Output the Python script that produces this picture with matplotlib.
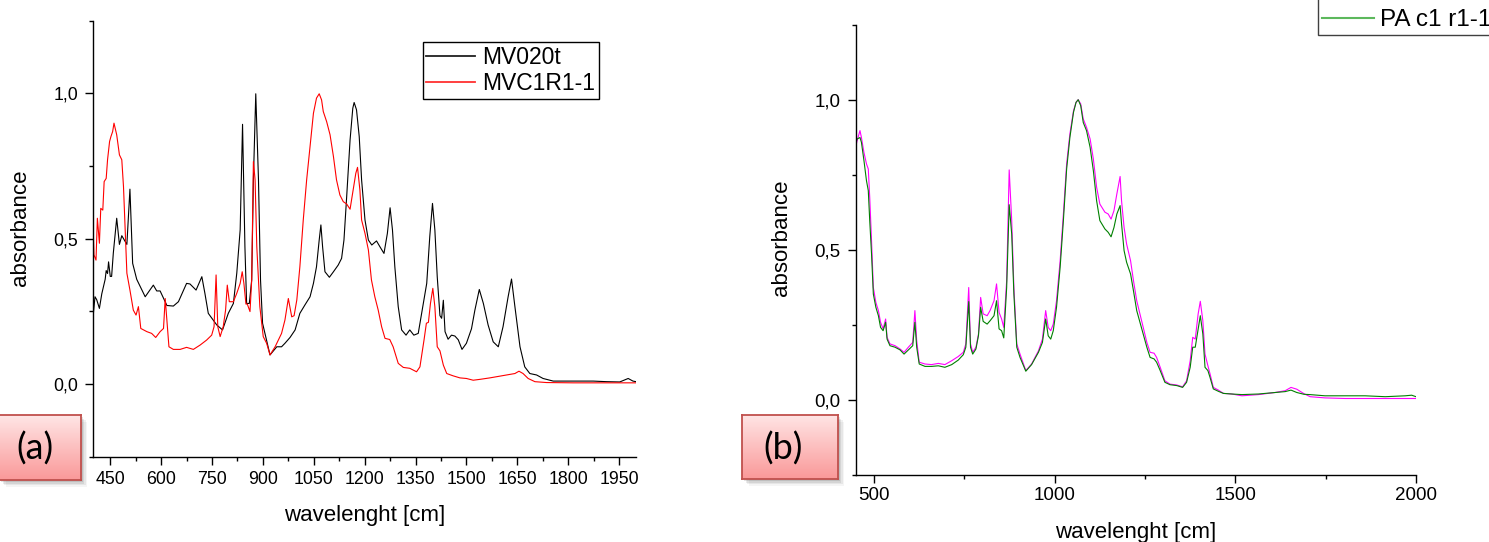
import numpy as np
import matplotlib
matplotlib.use('Agg')
import matplotlib.pyplot as plt
from matplotlib.ticker import MultipleLocator, FuncFormatter
from matplotlib.lines import Line2D
from matplotlib.patches import Rectangle

plt.rcParams['font.family'] = ['Liberation Sans', 'DejaVu Sans']

# (a) MV020t / MVC1R1-1
mv020t_x = [400, 405, 410, 418, 425, 435, 438, 442, 445, 450, 454, 459, 469, 477, 484, 494, 499, 508, 516, 528,
            553, 577, 587, 597, 617, 636, 651, 675, 685, 703, 720, 729, 739, 764, 781, 798, 813, 823, 833, 840,
            847, 852, 860, 867, 872, 879, 887, 893, 899, 906, 921, 941, 955, 965, 980, 995, 1009, 1024, 1039, 1049,
            1058, 1066, 1071, 1076, 1083, 1096, 1108, 1122, 1132, 1139, 1147, 1157, 1165, 1169, 1176, 1184, 1191,
            1201, 1211, 1221, 1235, 1245, 1257, 1267, 1275, 1282, 1289, 1299, 1309, 1322, 1333, 1345, 1358, 1368,
            1383, 1392, 1400, 1407, 1414, 1422, 1427, 1432, 1437, 1446, 1456, 1466, 1476, 1487, 1500, 1515, 1525,
            1538, 1550, 1564, 1579, 1594, 1608, 1623, 1633, 1643, 1658, 1672, 1687, 1707, 1726, 1756, 1795, 1834,
            1874, 1913, 1952, 1977, 1991, 2000]
mv020t_y = [0.24, 0.30, 0.29, 0.26, 0.31, 0.36, 0.39, 0.38, 0.42, 0.37, 0.37, 0.45, 0.57, 0.48, 0.51, 0.49, 0.48, 0.67, 0.415, 0.36,
            0.30, 0.34, 0.32, 0.32, 0.27, 0.268, 0.283, 0.346, 0.344, 0.323, 0.369, 0.312, 0.243, 0.203, 0.186, 0.243, 0.277, 0.381, 0.530, 0.893,
            0.472, 0.277, 0.277, 0.358, 0.702, 0.998, 0.702, 0.358, 0.209, 0.174, 0.100, 0.128, 0.128, 0.140, 0.160, 0.186, 0.243, 0.272, 0.300, 0.346,
            0.403, 0.495, 0.547, 0.472, 0.386, 0.367, 0.386, 0.409, 0.432, 0.495, 0.644, 0.839, 0.948, 0.968, 0.943, 0.851, 0.702,
            0.564, 0.495, 0.478, 0.492, 0.472, 0.449, 0.518, 0.606, 0.530, 0.403, 0.266, 0.186, 0.168, 0.186, 0.168, 0.174, 0.243,
            0.346, 0.507, 0.621, 0.530, 0.369, 0.235, 0.226, 0.288, 0.180, 0.154, 0.168, 0.165, 0.152, 0.119, 0.140, 0.190, 0.254,
            0.325, 0.277, 0.203, 0.145, 0.128, 0.197, 0.300, 0.361, 0.266, 0.128, 0.059, 0.036, 0.031, 0.019, 0.010, 0.010, 0.010,
            0.010, 0.008, 0.007, 0.019, 0.010, 0.008]

mvc1r1_x = [400, 402, 408, 412, 418, 422, 428, 432, 438, 442, 448, 452, 457, 461, 469, 477, 484, 489, 494, 499,
            508, 518, 526, 533, 540, 558, 572, 584, 597, 607, 612, 617, 623, 636, 656, 675, 695, 715, 734, 749,
            756, 762, 767, 774, 783, 790, 795, 801, 813, 823, 833, 839, 844, 850, 854, 862, 867, 872, 877, 882,
            891, 901, 911, 921, 936, 955, 965, 975, 985, 992, 1000, 1009, 1019, 1029, 1039, 1049, 1058, 1066, 1073,
            1078, 1088, 1098, 1108, 1117, 1127, 1137, 1147, 1157, 1166, 1174, 1179, 1186, 1191, 1201, 1211, 1220,
            1230, 1240, 1250, 1260, 1274, 1284, 1299, 1314, 1333, 1353, 1363, 1375, 1382, 1388, 1394, 1401, 1407,
            1414, 1422, 1432, 1442, 1461, 1481, 1500, 1520, 1540, 1569, 1618, 1643, 1655, 1667, 1682, 1702, 1736,
            1815, 1913, 2000]
mvc1r1_y = [0.52, 0.444, 0.426, 0.570, 0.484, 0.604, 0.598, 0.696, 0.707, 0.771, 0.834, 0.851, 0.868, 0.897, 0.857, 0.788, 0.771, 0.679, 0.530, 0.381,
            0.323, 0.254, 0.237, 0.266, 0.191, 0.180, 0.174, 0.160, 0.180, 0.191, 0.294, 0.220, 0.128, 0.119, 0.119, 0.126, 0.119, 0.134, 0.151, 0.168,
            0.197, 0.375, 0.197, 0.163, 0.197, 0.254, 0.340, 0.283, 0.283, 0.312, 0.346, 0.386, 0.346, 0.275, 0.275, 0.249, 0.358, 0.765, 0.702, 0.472,
            0.266, 0.163, 0.140, 0.100, 0.128, 0.174, 0.220, 0.294, 0.231, 0.235, 0.289, 0.403, 0.564, 0.702, 0.816, 0.931, 0.983, 0.998, 0.977,
            0.937, 0.902, 0.857, 0.782, 0.702, 0.650, 0.627, 0.619, 0.601, 0.667, 0.725, 0.745, 0.667, 0.564, 0.518, 0.461, 0.358,
            0.300, 0.254, 0.197, 0.157, 0.153, 0.128, 0.071, 0.057, 0.054, 0.042, 0.059, 0.151, 0.209, 0.212, 0.277, 0.329, 0.266,
            0.128, 0.114, 0.065, 0.036, 0.028, 0.021, 0.019, 0.013, 0.016, 0.021, 0.031, 0.036, 0.044, 0.036, 0.019, 0.008, 0.005,
            0.004, 0.004, 0.004]

# (b) two PA spectra
pa_x = [450, 453, 461, 465, 472, 479, 484, 488, 493, 498, 505, 512, 518, 525, 532, 536, 544, 558, 572, 583,
        595, 607, 613, 618, 625, 641, 659, 678, 696, 715, 733, 747, 754, 762, 767, 773, 782, 789, 795, 802,
        813, 821, 832, 839, 846, 853, 859, 867, 874, 881, 887, 895, 904, 920, 936, 955, 966, 975, 982, 989,
        996, 1005, 1015, 1024, 1033, 1042, 1052, 1059, 1065, 1072, 1079, 1088, 1098, 1107, 1116, 1125, 1139,
        1148, 1156, 1164, 1172, 1181, 1185, 1192, 1199, 1210, 1218, 1227, 1236, 1245, 1255, 1264, 1275, 1282,
        1292, 1305, 1319, 1338, 1354, 1365, 1375, 1382, 1389, 1397, 1403, 1410, 1416, 1424, 1430, 1439, 1453,
        1467, 1490, 1518, 1564, 1610, 1638, 1654, 1670, 1690, 1707, 1748, 1804, 1859, 1915, 1970, 1988, 2000]
pa_magenta = [0.848, 0.864, 0.898, 0.875, 0.825, 0.787, 0.770, 0.675, 0.531, 0.375, 0.325, 0.298, 0.259, 0.237, 0.270, 0.209, 0.187, 0.181, 0.170, 0.159,
              0.176, 0.192, 0.298, 0.198, 0.126, 0.120, 0.118, 0.122, 0.118, 0.131, 0.145, 0.159, 0.187, 0.375, 0.187, 0.159, 0.176, 0.220, 0.342, 0.287,
              0.281, 0.298, 0.331, 0.387, 0.292, 0.270, 0.242, 0.398, 0.767, 0.598, 0.375, 0.187, 0.153, 0.098, 0.120, 0.164, 0.203, 0.298, 0.242, 0.231,
              0.253, 0.331, 0.464, 0.620, 0.787, 0.887, 0.964, 0.992, 1.001, 0.987, 0.937, 0.909, 0.870, 0.803, 0.709, 0.653, 0.626,
              0.620, 0.603, 0.631, 0.687, 0.745, 0.664, 0.575, 0.520, 0.464, 0.398, 0.331, 0.287, 0.242, 0.192, 0.159, 0.156, 0.142,
              0.109, 0.064, 0.053, 0.050, 0.044, 0.064, 0.131, 0.209, 0.203, 0.287, 0.329, 0.264, 0.153, 0.114, 0.087, 0.042, 0.033,
              0.022, 0.020, 0.014, 0.018, 0.025, 0.031, 0.042, 0.036, 0.021, 0.011, 0.007, 0.005, 0.005, 0.005, 0.005, 0.005, 0.005]
pa_green = [0.859, 0.870, 0.875, 0.859, 0.798, 0.731, 0.698, 0.598, 0.487, 0.353, 0.309, 0.281, 0.242, 0.231, 0.259, 0.203, 0.181, 0.176, 0.167, 0.153,
            0.167, 0.181, 0.259, 0.176, 0.120, 0.112, 0.112, 0.114, 0.109, 0.118, 0.133, 0.151, 0.176, 0.328, 0.176, 0.153, 0.170, 0.215, 0.309, 0.262,
            0.253, 0.264, 0.281, 0.331, 0.237, 0.231, 0.207, 0.375, 0.651, 0.553, 0.353, 0.176, 0.142, 0.096, 0.118, 0.159, 0.192, 0.270, 0.214, 0.203,
            0.231, 0.309, 0.442, 0.598, 0.770, 0.875, 0.959, 0.992, 1.001, 0.981, 0.925, 0.898, 0.842, 0.764, 0.664, 0.598, 0.570,
            0.559, 0.544, 0.575, 0.620, 0.648, 0.587, 0.498, 0.459, 0.420, 0.364, 0.298, 0.259, 0.220, 0.176, 0.142, 0.137, 0.126,
            0.098, 0.059, 0.051, 0.048, 0.042, 0.059, 0.109, 0.176, 0.176, 0.237, 0.281, 0.220, 0.109, 0.098, 0.075, 0.037, 0.029,
            0.022, 0.020, 0.018, 0.020, 0.025, 0.028, 0.033, 0.025, 0.019, 0.018, 0.014, 0.014, 0.014, 0.011, 0.014, 0.016, 0.011]

W, H = 1489, 542


def px_box(x0, y0, x1, y1):
    # pixel box (top-left origin) -> figure fraction rect
    return [x0 / W, (H - y1) / H, (x1 - x0) / W, (y1 - y0) / H]


def comma_fmt(v, pos):
    return f'{v + 0.0:.1f}'.replace('.', ',')


def style_axes(ax, xmaj, xmin, labelsize, xpad, ypad):
    ax.spines['top'].set_visible(False)
    ax.spines['right'].set_visible(False)
    ax.spines['left'].set_linewidth(1.0)
    ax.spines['bottom'].set_linewidth(1.0)
    ax.xaxis.set_major_locator(MultipleLocator(xmaj))
    ax.xaxis.set_minor_locator(MultipleLocator(xmin))
    ax.yaxis.set_major_locator(MultipleLocator(0.5))
    ax.yaxis.set_minor_locator(MultipleLocator(0.25))
    ax.yaxis.set_major_formatter(FuncFormatter(comma_fmt))
    ax.tick_params(which='major', direction='out', length=6, width=1.0, labelsize=labelsize)
    ax.tick_params(which='minor', direction='out', length=3, width=1.0)
    ax.tick_params(axis='x', which='major', pad=xpad)
    ax.tick_params(axis='y', which='major', pad=ypad)
    ax.set_ylim(-0.25, 1.25)


fig = plt.figure(figsize=(W / 100, H / 100), dpi=100)

ax_a = fig.add_axes(px_box(93.3, 20.5, 636, 456.7))
ax_a.plot(mv020t_x, mv020t_y, color='black', lw=0.8)
ax_a.plot(mvc1r1_x, mvc1r1_y, color='red', lw=0.8)
ax_a.set_xlim(400, 2000)
style_axes(ax_a, 150, 75, 12.8, 4, 5)
ax_a.set_xlabel('wavelenght [cm]', fontsize=16, va='center')
ax_a.set_ylabel('absorbance', fontsize=16, va='center')
ax_a.xaxis.set_label_coords(0.5, -0.134)
ax_a.yaxis.set_label_coords(-0.134, 0.525)
handles_a = [Line2D([], [], color='#202020', lw=1.3), Line2D([], [], color='#ff3030', lw=1.3)]
ax_a.legend(handles_a, ['MV020t', 'MVC1R1-1'], loc='upper left',
            bbox_to_anchor=(422.7 / W, 1 - 42.2 / H), bbox_transform=fig.transFigure,
            borderaxespad=0, fontsize=16.5, handlelength=2.15, handletextpad=0.3,
            borderpad=0.15, labelspacing=0.15, fancybox=False, framealpha=1,
            edgecolor='black').get_frame().set_linewidth(1.0)

ax_b = fig.add_axes(px_box(856, 25, 1416, 475))
ax_b.plot(pa_x, pa_magenta, color='magenta', lw=0.8)
ax_b.plot(pa_x, pa_green, color='green', lw=0.8)
ax_b.set_xlim(450, 2000)
style_axes(ax_b, 500, 250, 13.5, 3, 5)
ax_b.set_xlabel('wavelenght [cm]', fontsize=16, va='center')
ax_b.set_ylabel('absorbance', fontsize=16, va='center')
ax_b.xaxis.set_label_coords(0.5, -0.1286)
ax_b.yaxis.set_label_coords(-0.1325, 0.528)
# legend is cut by the top/right edge of the picture, only the green entry shows
handles_b = [Line2D([], [], color='#ff40ff', lw=1.5), Line2D([], [], color='#5cb85c', lw=1.5)]
ax_b.legend(handles_b, [' ', 'PA c1 r1-1'], loc='lower left',
            bbox_to_anchor=(1318.3 / W, 1 - 35 / H), bbox_transform=fig.transFigure,
            borderaxespad=0, fontsize=17.5, handlelength=2.15, handletextpad=0.25,
            borderpad=0.15, labelspacing=0.15, fancybox=False, framealpha=1,
            edgecolor='#404040').get_frame().set_linewidth(1.0)

# pink panel tags with a soft shadow
grad = np.linspace(0, 1, 64)[:, None]
top_col = np.array([1.0, 0.90, 0.90])
bot_col = np.array([0.98, 0.60, 0.60])
grad_img = (top_col * (1 - grad) + bot_col * grad)[:, None, :].repeat(2, axis=1)

for tag, (x0, y0, x1, y1), tx in [('(a)', (-1, 415, 80.7, 480), 35),
                                    ('(b)', (742.3, 415, 837.7, 479.3), 783)]:
    for k, a in enumerate([0.10, 0.08, 0.06, 0.04]):
        off = 2 + k * 1.5
        fig.patches.append(Rectangle(((x0 + off) / W, (H - y1 - off) / H), (x1 - x0) / W, (y1 - y0) / H,
                                     transform=fig.transFigure, color='black', alpha=a, lw=0, zorder=-1))
    bx = fig.add_axes(px_box(x0, y0, x1, y1))
    bx.imshow(grad_img, aspect='auto', extent=(0, 1, 0, 1))
    bx.set_xticks([])
    bx.set_yticks([])
    for s in bx.spines.values():
        s.set_color('#c0504d')
        s.set_linewidth(1.3)
    fig.text(tx / W, 1 - 449 / H, tag, fontsize=26, family=['Lato', 'DejaVu Sans'],
             ha='center', va='center')

fig.savefig('out.png', dpi=100)
